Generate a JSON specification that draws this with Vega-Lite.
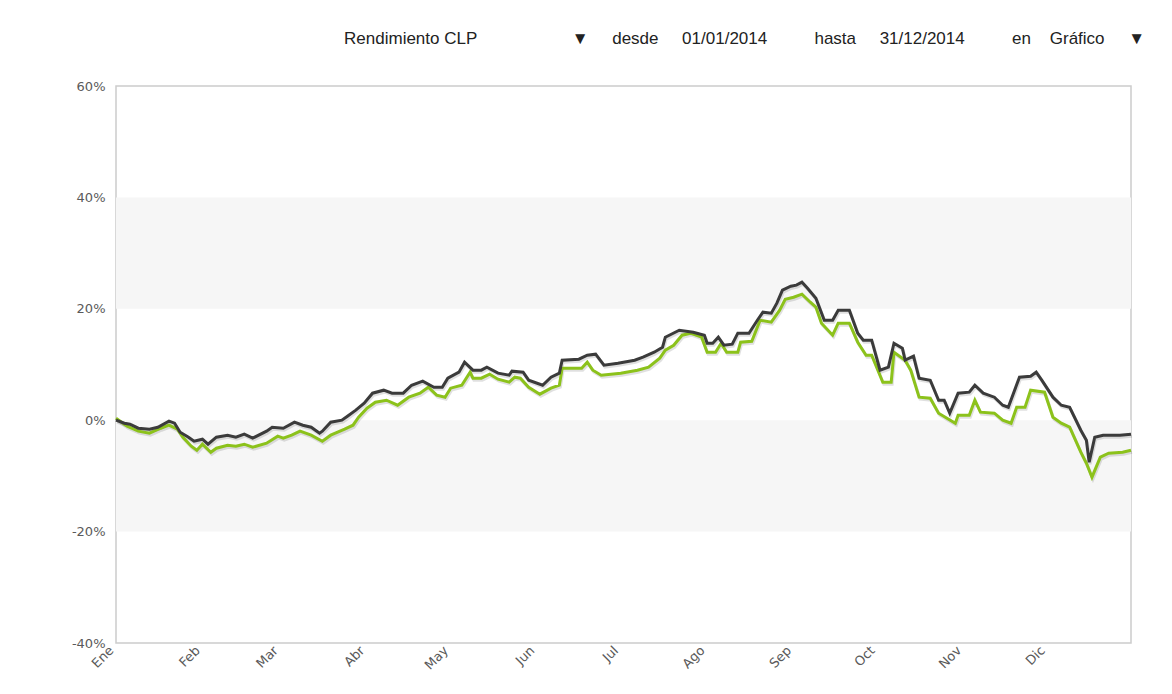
{
  "$schema": "https://vega.github.io/schema/vega-lite/v6.json",
  "width": 1015,
  "height": 557,
  "autosize": {"type": "none"},
  "padding": {"left": 116, "top": 86, "right": 41, "bottom": 51},
  "background": "#ffffff",
  "title": {
    "text": "Rendimiento CLP\u00a0\u00a0\u00a0\u00a0\u00a0\u00a0\u00a0\u00a0\u00a0\u00a0\u00a0\u00a0\u00a0\u00a0\u00a0\u00a0\u00a0\u00a0\u00a0\u00a0▼\u00a0\u00a0\u00a0\u00a0\u00a0desde\u00a0\u00a0\u00a0\u00a0\u00a001/01/2014\u00a0\u00a0\u00a0\u00a0\u00a0\u00a0\u00a0\u00a0\u00a0\u00a0hasta\u00a0\u00a0\u00a0\u00a0\u00a031/12/2014\u00a0\u00a0\u00a0\u00a0\u00a0\u00a0\u00a0\u00a0\u00a0\u00a0en\u00a0\u00a0\u00a0\u00a0Gráfico\u00a0\u00a0\u00a0\u00a0\u00a0▼",
    "anchor": "end",
    "frame": "group",
    "font": "Liberation Sans",
    "fontSize": 17,
    "fontWeight": "normal",
    "color": "#222222",
    "offset": 32,
    "dx": 14
  },
  "config": {
    "view": {"stroke": "#cccccc", "strokeWidth": 1.5},
    "axis": {
      "labelFont": "DejaVu Sans",
      "labelFontSize": 13,
      "labelColor": "#5a5a5a",
      "domain": false,
      "ticks": false,
      "grid": false,
      "title": null
    }
  },
  "datasets": {
    "bands": [
      {"lo": 20, "hi": 40},
      {"lo": -20, "hi": 0}
    ],
    "dark": [
      {"d": "2014-01-01", "v": 0.0},
      {"d": "2014-01-04", "v": -0.54},
      {"d": "2014-01-06", "v": -0.72},
      {"d": "2014-01-09", "v": -1.44},
      {"d": "2014-01-13", "v": -1.62},
      {"d": "2014-01-16", "v": -1.26},
      {"d": "2014-01-20", "v": -0.18},
      {"d": "2014-01-22", "v": -0.54},
      {"d": "2014-01-24", "v": -2.15},
      {"d": "2014-01-27", "v": -3.05},
      {"d": "2014-01-29", "v": -3.77},
      {"d": "2014-02-01", "v": -3.41},
      {"d": "2014-02-03", "v": -4.31},
      {"d": "2014-02-06", "v": -3.05},
      {"d": "2014-02-10", "v": -2.69},
      {"d": "2014-02-13", "v": -3.05},
      {"d": "2014-02-16", "v": -2.51},
      {"d": "2014-02-19", "v": -3.23},
      {"d": "2014-02-24", "v": -1.97},
      {"d": "2014-02-26", "v": -1.26},
      {"d": "2014-03-02", "v": -1.44},
      {"d": "2014-03-06", "v": -0.36},
      {"d": "2014-03-09", "v": -0.9},
      {"d": "2014-03-12", "v": -1.26},
      {"d": "2014-03-15", "v": -2.33},
      {"d": "2014-03-16", "v": -1.97},
      {"d": "2014-03-19", "v": -0.36},
      {"d": "2014-03-23", "v": 0.0},
      {"d": "2014-03-25", "v": 0.72},
      {"d": "2014-03-28", "v": 1.8},
      {"d": "2014-03-31", "v": 3.05},
      {"d": "2014-04-03", "v": 4.85},
      {"d": "2014-04-07", "v": 5.39},
      {"d": "2014-04-10", "v": 4.85},
      {"d": "2014-04-14", "v": 4.85},
      {"d": "2014-04-17", "v": 6.28},
      {"d": "2014-04-21", "v": 7.0},
      {"d": "2014-04-25", "v": 5.92},
      {"d": "2014-04-28", "v": 5.92},
      {"d": "2014-04-30", "v": 7.54},
      {"d": "2014-05-04", "v": 8.62},
      {"d": "2014-05-06", "v": 10.41},
      {"d": "2014-05-09", "v": 8.98},
      {"d": "2014-05-12", "v": 8.98},
      {"d": "2014-05-14", "v": 9.52},
      {"d": "2014-05-18", "v": 8.44},
      {"d": "2014-05-22", "v": 8.08},
      {"d": "2014-05-23", "v": 8.8},
      {"d": "2014-05-27", "v": 8.62},
      {"d": "2014-05-29", "v": 7.18},
      {"d": "2014-06-03", "v": 6.28},
      {"d": "2014-06-06", "v": 7.72},
      {"d": "2014-06-09", "v": 8.44},
      {"d": "2014-06-10", "v": 10.77},
      {"d": "2014-06-16", "v": 10.95},
      {"d": "2014-06-19", "v": 11.67},
      {"d": "2014-06-22", "v": 11.85},
      {"d": "2014-06-25", "v": 9.87},
      {"d": "2014-06-30", "v": 10.23},
      {"d": "2014-07-06", "v": 10.77},
      {"d": "2014-07-09", "v": 11.31},
      {"d": "2014-07-13", "v": 12.21},
      {"d": "2014-07-16", "v": 13.11},
      {"d": "2014-07-17", "v": 14.9},
      {"d": "2014-07-22", "v": 16.16},
      {"d": "2014-07-27", "v": 15.8},
      {"d": "2014-07-31", "v": 15.26},
      {"d": "2014-08-01", "v": 13.82},
      {"d": "2014-08-03", "v": 13.82},
      {"d": "2014-08-05", "v": 14.9},
      {"d": "2014-08-07", "v": 13.46},
      {"d": "2014-08-10", "v": 13.64},
      {"d": "2014-08-12", "v": 15.62},
      {"d": "2014-08-16", "v": 15.62},
      {"d": "2014-08-19", "v": 17.95},
      {"d": "2014-08-21", "v": 19.39},
      {"d": "2014-08-24", "v": 19.21},
      {"d": "2014-08-26", "v": 21.01},
      {"d": "2014-08-28", "v": 23.34},
      {"d": "2014-08-31", "v": 24.06},
      {"d": "2014-09-02", "v": 24.24},
      {"d": "2014-09-04", "v": 24.78},
      {"d": "2014-09-06", "v": 23.7},
      {"d": "2014-09-09", "v": 21.9},
      {"d": "2014-09-12", "v": 17.95},
      {"d": "2014-09-15", "v": 17.95},
      {"d": "2014-09-17", "v": 19.75},
      {"d": "2014-09-21", "v": 19.75},
      {"d": "2014-09-24", "v": 15.62},
      {"d": "2014-09-26", "v": 14.36},
      {"d": "2014-09-29", "v": 14.36},
      {"d": "2014-10-02", "v": 8.98},
      {"d": "2014-10-05", "v": 9.52},
      {"d": "2014-10-07", "v": 13.82},
      {"d": "2014-10-10", "v": 12.93},
      {"d": "2014-10-11", "v": 10.77},
      {"d": "2014-10-14", "v": 11.49},
      {"d": "2014-10-16", "v": 7.54},
      {"d": "2014-10-20", "v": 7.18},
      {"d": "2014-10-23", "v": 3.59},
      {"d": "2014-10-25", "v": 3.59},
      {"d": "2014-10-27", "v": 1.26},
      {"d": "2014-10-30", "v": 4.85},
      {"d": "2014-11-03", "v": 5.03},
      {"d": "2014-11-05", "v": 6.28},
      {"d": "2014-11-08", "v": 4.85},
      {"d": "2014-11-12", "v": 4.13},
      {"d": "2014-11-15", "v": 2.69},
      {"d": "2014-11-17", "v": 2.33},
      {"d": "2014-11-21", "v": 7.72},
      {"d": "2014-11-25", "v": 7.9},
      {"d": "2014-11-27", "v": 8.62},
      {"d": "2014-11-29", "v": 7.18},
      {"d": "2014-12-03", "v": 4.13},
      {"d": "2014-12-06", "v": 2.69},
      {"d": "2014-12-09", "v": 2.33},
      {"d": "2014-12-13", "v": -1.8},
      {"d": "2014-12-15", "v": -3.59},
      {"d": "2014-12-16", "v": -7.54},
      {"d": "2014-12-18", "v": -3.05},
      {"d": "2014-12-21", "v": -2.69},
      {"d": "2014-12-27", "v": -2.69},
      {"d": "2014-12-31", "v": -2.51}
    ],
    "green": [
      {"d": "2014-01-01", "v": 0.36},
      {"d": "2014-01-05", "v": -1.08},
      {"d": "2014-01-09", "v": -1.97},
      {"d": "2014-01-13", "v": -2.33},
      {"d": "2014-01-17", "v": -1.44},
      {"d": "2014-01-20", "v": -0.9},
      {"d": "2014-01-23", "v": -1.62},
      {"d": "2014-01-25", "v": -3.05},
      {"d": "2014-01-28", "v": -4.67},
      {"d": "2014-01-30", "v": -5.39},
      {"d": "2014-02-01", "v": -4.31},
      {"d": "2014-02-04", "v": -5.75},
      {"d": "2014-02-06", "v": -5.03},
      {"d": "2014-02-10", "v": -4.49},
      {"d": "2014-02-13", "v": -4.67},
      {"d": "2014-02-16", "v": -4.31},
      {"d": "2014-02-19", "v": -4.85},
      {"d": "2014-02-24", "v": -4.13},
      {"d": "2014-02-28", "v": -2.87},
      {"d": "2014-03-02", "v": -3.23},
      {"d": "2014-03-05", "v": -2.69},
      {"d": "2014-03-08", "v": -1.97},
      {"d": "2014-03-12", "v": -2.69},
      {"d": "2014-03-16", "v": -3.77},
      {"d": "2014-03-19", "v": -2.69},
      {"d": "2014-03-24", "v": -1.62},
      {"d": "2014-03-27", "v": -0.9},
      {"d": "2014-03-29", "v": 0.54},
      {"d": "2014-04-01", "v": 2.15},
      {"d": "2014-04-04", "v": 3.23},
      {"d": "2014-04-08", "v": 3.59},
      {"d": "2014-04-12", "v": 2.69},
      {"d": "2014-04-16", "v": 4.13},
      {"d": "2014-04-20", "v": 4.85},
      {"d": "2014-04-23", "v": 5.92},
      {"d": "2014-04-26", "v": 4.49},
      {"d": "2014-04-29", "v": 4.13},
      {"d": "2014-05-01", "v": 5.75},
      {"d": "2014-05-05", "v": 6.28},
      {"d": "2014-05-08", "v": 8.62},
      {"d": "2014-05-09", "v": 7.54},
      {"d": "2014-05-12", "v": 7.54},
      {"d": "2014-05-15", "v": 8.26},
      {"d": "2014-05-18", "v": 7.36},
      {"d": "2014-05-22", "v": 6.82},
      {"d": "2014-05-24", "v": 7.72},
      {"d": "2014-05-26", "v": 7.54},
      {"d": "2014-05-29", "v": 5.92},
      {"d": "2014-06-02", "v": 4.67},
      {"d": "2014-06-06", "v": 5.75},
      {"d": "2014-06-09", "v": 6.28},
      {"d": "2014-06-10", "v": 9.34},
      {"d": "2014-06-17", "v": 9.34},
      {"d": "2014-06-19", "v": 10.41},
      {"d": "2014-06-21", "v": 8.98},
      {"d": "2014-06-24", "v": 8.08},
      {"d": "2014-07-01", "v": 8.44},
      {"d": "2014-07-07", "v": 8.98},
      {"d": "2014-07-11", "v": 9.52},
      {"d": "2014-07-15", "v": 11.13},
      {"d": "2014-07-17", "v": 12.57},
      {"d": "2014-07-20", "v": 13.46},
      {"d": "2014-07-23", "v": 15.26},
      {"d": "2014-07-26", "v": 15.62},
      {"d": "2014-07-30", "v": 14.9},
      {"d": "2014-08-01", "v": 12.21},
      {"d": "2014-08-04", "v": 12.21},
      {"d": "2014-08-06", "v": 13.82},
      {"d": "2014-08-08", "v": 12.21},
      {"d": "2014-08-12", "v": 12.21},
      {"d": "2014-08-13", "v": 14.0},
      {"d": "2014-08-17", "v": 14.18},
      {"d": "2014-08-20", "v": 17.95},
      {"d": "2014-08-24", "v": 17.59},
      {"d": "2014-08-27", "v": 19.75},
      {"d": "2014-08-29", "v": 21.72},
      {"d": "2014-09-01", "v": 22.08},
      {"d": "2014-09-04", "v": 22.62},
      {"d": "2014-09-07", "v": 21.18},
      {"d": "2014-09-09", "v": 20.29},
      {"d": "2014-09-11", "v": 17.41},
      {"d": "2014-09-15", "v": 15.26},
      {"d": "2014-09-17", "v": 17.41},
      {"d": "2014-09-21", "v": 17.41},
      {"d": "2014-09-24", "v": 14.0},
      {"d": "2014-09-27", "v": 11.67},
      {"d": "2014-09-29", "v": 11.67},
      {"d": "2014-10-03", "v": 6.82},
      {"d": "2014-10-06", "v": 6.82},
      {"d": "2014-10-07", "v": 12.21},
      {"d": "2014-10-11", "v": 10.77},
      {"d": "2014-10-13", "v": 8.98},
      {"d": "2014-10-16", "v": 4.13},
      {"d": "2014-10-20", "v": 3.95},
      {"d": "2014-10-23", "v": 1.26},
      {"d": "2014-10-29", "v": -0.54},
      {"d": "2014-10-30", "v": 0.9},
      {"d": "2014-11-03", "v": 0.9},
      {"d": "2014-11-05", "v": 3.59},
      {"d": "2014-11-07", "v": 1.44},
      {"d": "2014-11-12", "v": 1.26},
      {"d": "2014-11-15", "v": 0.0},
      {"d": "2014-11-18", "v": -0.54},
      {"d": "2014-11-20", "v": 2.33},
      {"d": "2014-11-23", "v": 2.33},
      {"d": "2014-11-25", "v": 5.39},
      {"d": "2014-11-30", "v": 5.03},
      {"d": "2014-12-03", "v": 0.54},
      {"d": "2014-12-06", "v": -0.54},
      {"d": "2014-12-09", "v": -1.26},
      {"d": "2014-12-13", "v": -5.75},
      {"d": "2014-12-15", "v": -7.72},
      {"d": "2014-12-17", "v": -10.23},
      {"d": "2014-12-20", "v": -6.64},
      {"d": "2014-12-23", "v": -5.92},
      {"d": "2014-12-28", "v": -5.75},
      {"d": "2014-12-31", "v": -5.39}
    ]
  },
  "encoding": {
    "x": {
      "field": "d",
      "type": "temporal",
      "scale": {
        "type": "utc",
        "domain": [
          {"year": 2014, "month": 1, "date": 1, "utc": true},
          {"year": 2014, "month": 12, "date": 31, "utc": true}
        ]
      },
      "axis": {
        "tickCount": {"interval": "month", "step": 1},
        "labelExpr": "['Ene','Feb','Mar','Abr','May','Jun','Jul','Ago','Sep','Oct','Nov','Dic'][utcmonth(datum.value)]",
        "labelAngle": -45,
        "labelAlign": "right",
        "labelBaseline": "bottom",
        "labelPadding": 10,
        "labelFlush": false,
        "labelOverlap": false
      }
    },
    "y": {
      "field": "v",
      "type": "quantitative",
      "scale": {"domain": [-40, 60], "nice": false, "zero": false},
      "axis": {
        "values": [-40, -20, 0, 20, 40, 60],
        "labelExpr": "datum.value + '%'",
        "labelPadding": 11
      }
    }
  },
  "layer": [
    {
      "data": {"name": "bands"},
      "mark": {"type": "rect", "fill": "#f6f6f6"},
      "encoding": {
        "x": null,
        "y": {"field": "lo", "type": "quantitative"},
        "y2": {"field": "hi"}
      }
    },
    {
      "data": {"name": "green"},
      "mark": {"type": "line", "color": "#000000", "opacity": 0.12, "strokeWidth": 3, "xOffset": 1, "yOffset": 2}
    },
    {
      "data": {"name": "dark"},
      "mark": {"type": "line", "color": "#000000", "opacity": 0.12, "strokeWidth": 3, "xOffset": 1, "yOffset": 2}
    },
    {
      "data": {"name": "green"},
      "mark": {"type": "line", "color": "#8cc21b", "strokeWidth": 3}
    },
    {
      "data": {"name": "dark"},
      "mark": {"type": "line", "color": "#3b3b3b", "strokeWidth": 3}
    }
  ]
}
